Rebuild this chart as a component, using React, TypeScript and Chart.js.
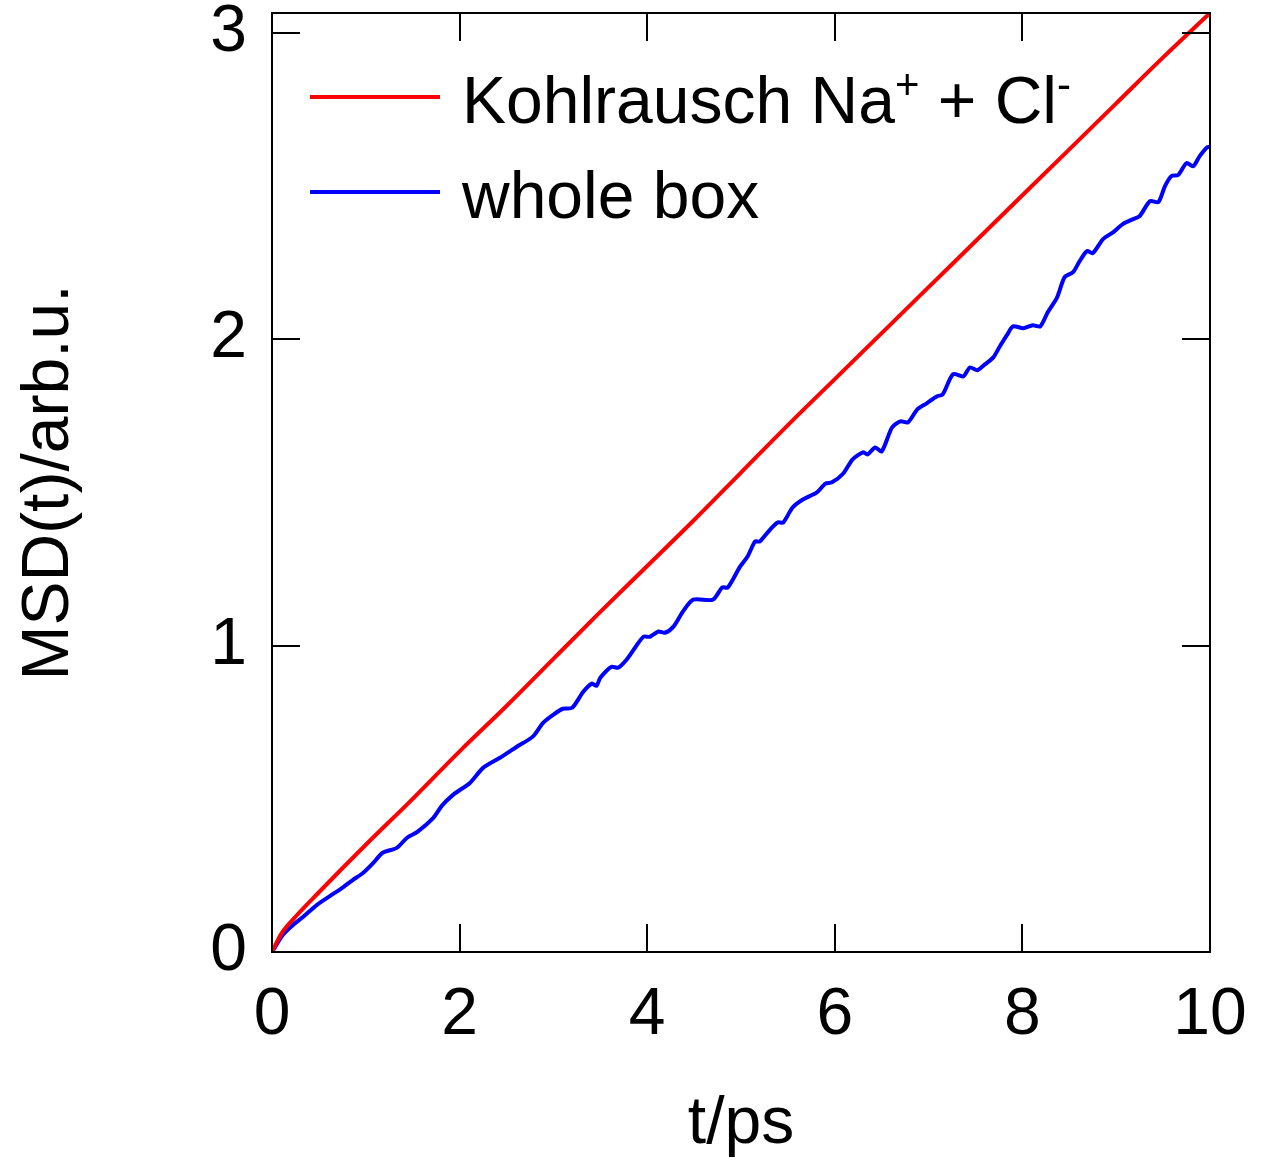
import React, { useEffect, useRef } from "react";
import { Chart, registerables } from "chart.js";

Chart.register(...registerables);

// time axis (ps) and MSD values (arb. u.)
const redT = [0, 0.1, 0.25, 0.5, 1.0, 1.5, 2.0, 2.5, 3.0, 3.5, 4.0, 4.5, 5.0, 5.5, 6.0, 6.5, 7.0, 7.5, 8.0, 8.5, 9.0, 9.5, 10.0];
const redMSD = [0, 0.06, 0.115, 0.195, 0.35, 0.5, 0.655, 0.803, 0.957, 1.11, 1.26, 1.41, 1.565, 1.72, 1.87, 2.02, 2.17, 2.32, 2.47, 2.62, 2.77, 2.92, 3.065];

const blueT = [
  0, 0.117, 0.224, 0.33, 0.48, 0.62, 0.76, 0.86, 0.97, 1.08, 1.18, 1.33, 1.44, 1.55, 1.72, 1.81, 1.93, 2.11, 2.25, 2.43, 2.61, 2.78, 2.89,
  3.0, 3.1, 3.2, 3.32, 3.41, 3.46, 3.5, 3.62, 3.69, 3.78, 3.87, 3.96, 4.03, 4.12, 4.19, 4.28, 4.38, 4.49, 4.7, 4.8,
  4.86, 4.99, 5.07, 5.15, 5.2, 5.31, 5.39, 5.45, 5.55, 5.66, 5.81, 5.9, 5.97, 6.09, 6.19, 6.3, 6.35, 6.43, 6.5, 6.61,
  6.7, 6.78, 6.88, 6.98, 7.09, 7.15, 7.26, 7.37, 7.44, 7.52, 7.6, 7.69, 7.76, 7.84, 7.9, 8.01, 8.11, 8.19, 8.27, 8.37,
  8.45, 8.54, 8.61, 8.69, 8.75, 8.86, 8.97, 9.07, 9.18, 9.25, 9.36, 9.45, 9.52, 9.59, 9.66, 9.75, 9.82, 9.89, 9.97, 10.0,
];
const blueMSD = [
  0, 0.056, 0.088, 0.114, 0.154, 0.183, 0.212, 0.235, 0.258, 0.291, 0.324, 0.34, 0.373, 0.392, 0.438, 0.477, 0.513, 0.552, 0.601, 0.634, 0.67, 0.703, 0.748,
  0.775, 0.794, 0.797, 0.85, 0.876, 0.869, 0.895, 0.931, 0.928, 0.954, 0.993, 1.029, 1.029, 1.046, 1.042, 1.062, 1.111, 1.15, 1.15, 1.19,
  1.19, 1.258, 1.291, 1.34, 1.34, 1.379, 1.402, 1.402, 1.451, 1.477, 1.5, 1.529, 1.533, 1.562, 1.608, 1.631, 1.624, 1.647, 1.634, 1.712,
  1.732, 1.729, 1.771, 1.791, 1.814, 1.82, 1.886, 1.879, 1.908, 1.899, 1.918, 1.941, 1.977, 2.016, 2.042, 2.036, 2.046, 2.042, 2.088, 2.137,
  2.203, 2.219, 2.255, 2.288, 2.281, 2.327, 2.35, 2.376, 2.392, 2.402, 2.451, 2.448, 2.5, 2.533, 2.536, 2.575, 2.565, 2.598, 2.627, 2.627,
];

const xTicks = [0, 2, 4, 6, 8, 10];
const yTicks = [0, 1, 2, 3];
const xMin = 0;
const xMax = 10;
const yMin = 0;
const yMax = 3.065;

const FONT = '"Liberation Sans", Arial, Helvetica, sans-serif';

const frameAndTicks = {
  id: "frameAndTicks",
  afterDatasetsDraw(chart: any) {
    const { ctx, chartArea } = chart;
    const { left, right, top, bottom } = chartArea;
    const xs = chart.scales.x;
    const ys = chart.scales.y;
    const L = 28;
    ctx.save();
    ctx.strokeStyle = "#000";
    ctx.lineWidth = 2;
    ctx.beginPath();
    for (const v of xTicks) {
      const px = Math.round(xs.getPixelForValue(v));
      ctx.moveTo(px, bottom);
      ctx.lineTo(px, bottom - L);
      ctx.moveTo(px, top);
      ctx.lineTo(px, top + L);
    }
    for (const v of yTicks) {
      const py = Math.round(ys.getPixelForValue(v));
      ctx.moveTo(left, py);
      ctx.lineTo(left + L, py);
      ctx.moveTo(right, py);
      ctx.lineTo(right - L, py);
    }
    ctx.stroke();
    ctx.strokeRect(left, top, right - left, bottom - top);
    ctx.restore();
  },
};

export default function App() {
  const ref = useRef<HTMLCanvasElement | null>(null);

  useEffect(() => {
    if (!ref.current) return;
    const chart = new Chart(ref.current, {
      type: "line",
      data: {
        datasets: [
          {
            label: "Kohlrausch Na+ + Cl-",
            data: redT.map((t, i) => ({ x: t, y: redMSD[i] })),
            borderColor: "#ff0000",
            borderWidth: 4,
            pointRadius: 0,
            cubicInterpolationMode: "monotone",
            fill: false,
          },
          {
            label: "whole box",
            data: blueT.map((t, i) => ({ x: t, y: blueMSD[i] })),
            borderColor: "#0000ff",
            borderWidth: 4,
            pointRadius: 0,
            tension: 0.25,
            fill: false,
          },
        ],
      },
      options: {
        animation: false,
        responsive: false,
        maintainAspectRatio: false,
        layout: { padding: { left: 0, right: 54, top: 13, bottom: 0 } },
        plugins: { legend: { display: false }, tooltip: { enabled: false } },
        scales: {
          x: {
            type: "linear",
            min: xMin,
            max: xMax,
            afterBuildTicks: (s: any) => {
              s.ticks = xTicks.map((v) => ({ value: v }));
            },
            afterFit: (s: any) => {
              s.height = 212;
              s.paddingLeft = 0;
              s.paddingRight = 0;
              s.paddingTop = 0;
              s.paddingBottom = 0;
            },
            grid: { display: false, drawTicks: false },
            border: { display: false },
            ticks: {
              color: "#000",
              font: { family: FONT, size: 66 },
              padding: 24,
              maxRotation: 0,
              autoSkip: false,
            },
            title: {
              display: true,
              text: "t/ps",
              color: "#000",
              font: { family: FONT, size: 66 },
              padding: { top: 0, bottom: 0 },
            },
          },
          y: {
            type: "linear",
            min: yMin,
            max: yMax,
            afterBuildTicks: (s: any) => {
              s.ticks = yTicks.map((v) => ({ value: v }));
            },
            afterFit: (s: any) => {
              s.width = 272;
              s.paddingLeft = 0;
              s.paddingRight = 0;
              s.paddingTop = 0;
              s.paddingBottom = 0;
            },
            grid: { display: false, drawTicks: false },
            border: { display: false },
            ticks: {
              color: "#000",
              font: { family: FONT, size: 66 },
              padding: 25,
              autoSkip: false,
            },
            title: {
              display: true,
              text: "MSD(t)/arb.u.",
              color: "#000",
              font: { family: FONT, size: 66 },
              padding: { top: 10, bottom: 0 },
            },
          },
        },
      },
      plugins: [frameAndTicks],
    } as any);
    return () => chart.destroy();
  }, []);

  const legendText: React.CSSProperties = {
    position: "absolute",
    left: 462,
    fontFamily: FONT,
    fontSize: 66,
    lineHeight: "66px",
    color: "#000",
    whiteSpace: "nowrap",
  };
  const sup: React.CSSProperties = { fontSize: 42, position: "relative", top: -24, lineHeight: 0 };

  return (
    <div style={{ position: "absolute", left: 0, top: 0, width: 1264, height: 1164, background: "#fff" }}>
      <canvas ref={ref} width={1264} height={1164} style={{ position: "absolute", left: 0, top: 0, width: 1264, height: 1164 }} />
      <div style={{ position: "absolute", left: 310, top: 95, width: 130, height: 4, background: "#ff0000" }} />
      <div style={{ position: "absolute", left: 310, top: 190, width: 130, height: 4, background: "#0000ff" }} />
      <div style={{ ...legendText, top: 67 }}>
        Kohlrausch Na<span style={sup}>+</span> + Cl<span style={sup}>-</span>
      </div>
      <div style={{ ...legendText, top: 162 }}>whole box</div>
    </div>
  );
}
